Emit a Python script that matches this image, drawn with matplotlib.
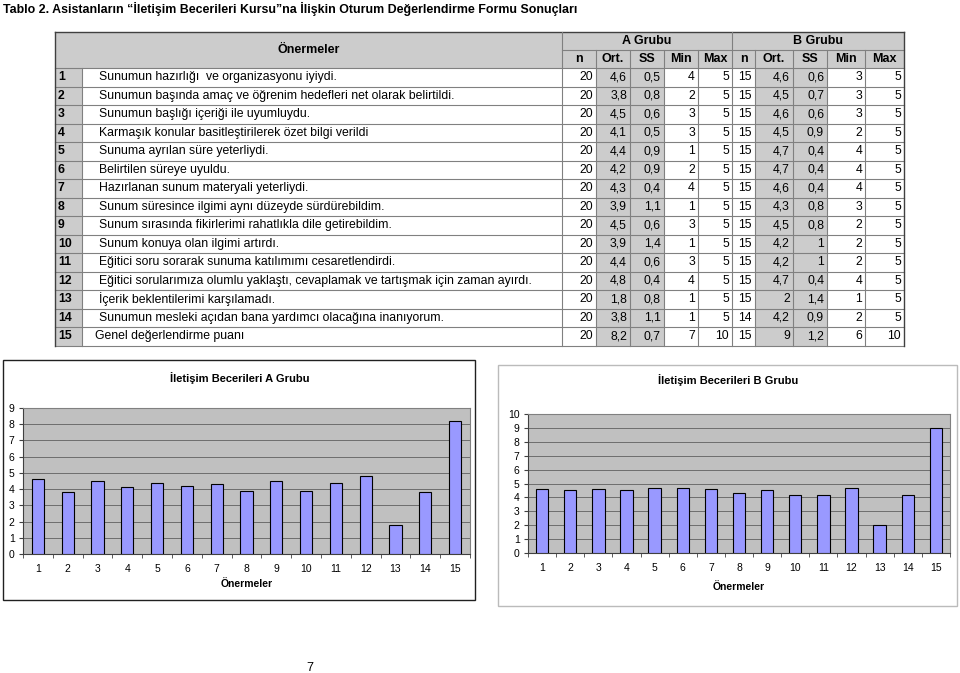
"""Tablo 2: İletişim Becerileri Kursu - table plus two bar charts (A / B groups)."""

import matplotlib

matplotlib.use("Agg")
import matplotlib.pyplot as plt
from matplotlib.patches import Rectangle
import numpy as np

plt.rcParams["font.family"] = ["Liberation Sans", "DejaVu Sans"]

# ---------------------------------------------------------------------------
# Data
# ---------------------------------------------------------------------------
STATEMENTS = [
    "Sunumun hazırlığı  ve organizasyonu iyiydi.",
    "Sunumun başında amaç ve öğrenim hedefleri net olarak belirtildi.",
    "Sunumun başlığı içeriği ile uyumluydu.",
    "Karmaşık konular basitleştirilerek özet bilgi verildi",
    "Sunuma ayrılan süre yeterliydi.",
    "Belirtilen süreye uyuldu.",
    "Hazırlanan sunum materyali yeterliydi.",
    "Sunum süresince ilgimi aynı düzeyde sürdürebildim.",
    "Sunum sırasında fikirlerimi rahatlıkla dile getirebildim.",
    "Sunum konuya olan ilgimi artırdı.",
    "Eğitici soru sorarak sunuma katılımımı cesaretlendirdi.",
    "Eğitici sorularımıza olumlu yaklaştı, cevaplamak ve tartışmak için zaman ayırdı.",
    "İçerik beklentilerimi karşılamadı.",
    "Sunumun mesleki açıdan bana yardımcı olacağına inanıyorum.",
    "Genel değerlendirme puanı",
]
ITEM_NO = list(range(1, 16))

A_N = [20, 20, 20, 20, 20, 20, 20, 20, 20, 20, 20, 20, 20, 20, 20]
A_ORT = [4.6, 3.8, 4.5, 4.1, 4.4, 4.2, 4.3, 3.9, 4.5, 3.9, 4.4, 4.8, 1.8, 3.8, 8.2]
A_SS = [0.5, 0.8, 0.6, 0.5, 0.9, 0.9, 0.4, 1.1, 0.6, 1.4, 0.6, 0.4, 0.8, 1.1, 0.7]
A_MIN = [4, 2, 3, 3, 1, 2, 4, 1, 3, 1, 3, 4, 1, 1, 7]
A_MAX = [5, 5, 5, 5, 5, 5, 5, 5, 5, 5, 5, 5, 5, 5, 10]

B_N = [15, 15, 15, 15, 15, 15, 15, 15, 15, 15, 15, 15, 15, 14, 15]
B_ORT = [4.6, 4.5, 4.6, 4.5, 4.7, 4.7, 4.6, 4.3, 4.5, 4.2, 4.2, 4.7, 2, 4.2, 9]
B_SS = [0.6, 0.7, 0.6, 0.9, 0.4, 0.4, 0.4, 0.8, 0.8, 1, 1, 0.4, 1.4, 0.9, 1.2]
B_MIN = [3, 3, 3, 2, 4, 4, 4, 3, 2, 2, 2, 4, 1, 2, 6]
B_MAX = [5, 5, 5, 5, 5, 5, 5, 5, 5, 5, 5, 5, 5, 5, 10]

SUB_HEADERS = ["n", "Ort.", "SS", "Min", "Max"]

# ---------------------------------------------------------------------------
# Layout (pixels, figure is 960 x 673)
# ---------------------------------------------------------------------------
W, H = 960, 673
X0, NUM_X1, STMT_X1 = 55, 82, 562
A_COLS = [562, 596, 630, 664, 698, 732]
B_COLS = [732, 755, 793, 827, 865, 904]
Y_TOP, Y_MID, Y_HEAD = 32, 50, 68
ROW_H = 18.5

GRAY = "#cccccc"
LINE = "#808080"
BAR_COLOR = "#9999ff"
PLOT_BG = "#c0c0c0"
BODY_FS = 8.8
HEAD_FS = 9


def fmt(v):
    if float(v).is_integer():
        return str(int(v))
    return f"{v:.1f}".replace(".", ",")


fig = plt.figure(figsize=(W / 100, H / 100), dpi=100)
bg = fig.add_axes([0, 0, 1, 1])
bg.set_xlim(0, W)
bg.set_ylim(H, 0)
bg.axis("off")

bg.text(3, 9, "Tablo 2. Asistanların “İletişim Becerileri Kursu”na İlişkin Oturum "
        "Değerlendirme Formu Sonuçları", fontsize=8.9, fontweight="bold",
        va="center", ha="left")

# ---- header shading ----
bg.add_patch(Rectangle((X0, Y_TOP), B_COLS[-1] - X0, Y_HEAD - Y_TOP,
                       facecolor=GRAY, edgecolor="none"))
n_rows = len(STATEMENTS)
y_bottom = Y_HEAD + n_rows * ROW_H
# number column + Ort./SS columns shading
bg.add_patch(Rectangle((X0, Y_HEAD), NUM_X1 - X0, y_bottom - Y_HEAD,
                       facecolor=GRAY, edgecolor="none"))
for cols in (A_COLS, B_COLS):
    bg.add_patch(Rectangle((cols[1], Y_HEAD), cols[3] - cols[1], y_bottom - Y_HEAD,
                           facecolor=GRAY, edgecolor="none"))

# ---- grid lines ----
for i in range(n_rows + 1):
    y = Y_HEAD + i * ROW_H
    bg.plot([X0, B_COLS[-1]], [y, y], color=LINE, lw=0.8)
bg.plot([STMT_X1, B_COLS[-1]], [Y_MID, Y_MID], color=LINE, lw=0.8)
bg.plot([X0, B_COLS[-1]], [Y_TOP, Y_TOP], color="#404040", lw=1)
bg.plot([X0, X0], [Y_TOP, y_bottom], color="#404040", lw=1)
bg.plot([B_COLS[-1], B_COLS[-1]], [Y_TOP, y_bottom], color="#404040", lw=1)
bg.plot([NUM_X1, NUM_X1], [Y_HEAD, y_bottom], color=LINE, lw=0.8)
bg.plot([STMT_X1, STMT_X1], [Y_TOP, y_bottom], color=LINE, lw=0.8)
bg.plot([A_COLS[-1], A_COLS[-1]], [Y_TOP, y_bottom], color=LINE, lw=0.8)
for cols in (A_COLS, B_COLS):
    for x in cols[1:-1]:
        bg.plot([x, x], [Y_MID, y_bottom], color=LINE, lw=0.8)

# ---- header text ----
bg.text((X0 + STMT_X1) / 2, (Y_TOP + Y_HEAD) / 2, "Önermeler", fontsize=HEAD_FS,
        fontweight="bold", ha="center", va="center")
for label, cols in (("A Grubu", A_COLS), ("B Grubu", B_COLS)):
    bg.text((cols[0] + cols[-1]) / 2, (Y_TOP + Y_MID) / 2, label, fontsize=HEAD_FS,
            fontweight="bold", ha="center", va="center")
    for j, sub in enumerate(SUB_HEADERS):
        bg.text((cols[j] + cols[j + 1]) / 2, (Y_MID + Y_HEAD) / 2, sub,
                fontsize=HEAD_FS, fontweight="bold", ha="center", va="center")

# ---- body text ----
for i in range(n_rows):
    yc = Y_HEAD + (i + 0.5) * ROW_H
    bg.text(X0 + 3, yc, str(ITEM_NO[i]), fontsize=BODY_FS, fontweight="bold",
            ha="left", va="center")
    sx = 95 if i == n_rows - 1 else 99
    bg.text(sx, yc, STATEMENTS[i], fontsize=BODY_FS, ha="left", va="center")
    for cols, vals in ((A_COLS, (A_N, A_ORT, A_SS, A_MIN, A_MAX)),
                       (B_COLS, (B_N, B_ORT, B_SS, B_MIN, B_MAX))):
        for j, series in enumerate(vals):
            bg.text(cols[j + 1] - 3, yc, fmt(series[i]), fontsize=BODY_FS,
                    ha="right", va="center")

# ---- chart frames ----
bg.add_patch(Rectangle((3, 360), 472, 240, facecolor="white",
                       edgecolor="#202020", lw=1))
bg.add_patch(Rectangle((498, 365), 459, 241, facecolor="white",
                       edgecolor="#bbbbbb", lw=1))
bg.text(310, 668, "7", fontsize=9, ha="center", va="center")


# ---------------------------------------------------------------------------
# Bar charts
# ---------------------------------------------------------------------------
def bar_chart(rect_px, values, ymax, title, title_xy, label_y, width):
    x0, y0, x1, y1 = rect_px
    ax = fig.add_axes([x0 / W, 1 - y1 / H, (x1 - x0) / W, (y1 - y0) / H])
    ax.set_facecolor(PLOT_BG)
    pos = np.arange(len(values))
    ax.bar(pos, values, width=width, color=BAR_COLOR, edgecolor="black",
           linewidth=0.8, zorder=3)
    ax.set_xlim(-0.5, len(values) - 0.5)
    ax.set_ylim(0, ymax)
    ax.set_yticks(range(0, ymax + 1))
    ax.set_xticks(pos)
    ax.set_xticklabels([str(n) for n in ITEM_NO])
    ax.set_xticks(np.arange(-0.5, len(values)), minor=True)
    ax.tick_params(axis="x", which="major", length=0, labelsize=7.5, pad=7)
    ax.tick_params(axis="x", which="minor", length=3, color="#404040")
    ax.tick_params(axis="y", length=3, labelsize=7.5, pad=3, color="#404040")
    ax.grid(axis="y", color="#606060", linewidth=0.6, zorder=1)
    for side in ("top", "right"):
        ax.spines[side].set_color("#808080")
    for side in ("left", "bottom"):
        ax.spines[side].set_color("#404040")
    for s in ax.spines.values():
        s.set_linewidth(0.8)
    bg.text(title_xy[0], title_xy[1], title, fontsize=8, fontweight="bold",
            ha="center", va="center")
    bg.text((x0 + x1) / 2, label_y, "Önermeler", fontsize=7.5,
            fontweight="bold", ha="center", va="center")
    return ax


bar_chart((23, 408, 470, 554), A_ORT, 9, "İletişim Becerileri A Grubu",
          (240, 378), 584, 0.41)
bar_chart((528, 414, 950, 553), B_ORT, 10, "İletişim Becerileri B Grubu",
          (728, 380), 587, 0.44)

fig.savefig("out.png", dpi=100)
